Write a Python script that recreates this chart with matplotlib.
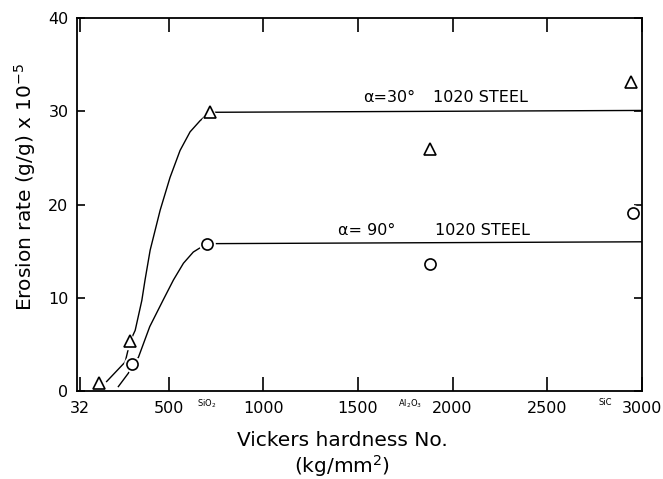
import matplotlib
matplotlib.use("Agg")
import matplotlib.pyplot as plt
import matplotlib.transforms as mtransforms

# === DATA ===
# measured points, 30 deg impact (triangles)
tri_x = [133, 296, 716, 1879, 2945]
tri_y = [0.8, 5.3, 29.9, 26.0, 33.1]
# measured points, 90 deg impact (circles)
circ_x = [305, 701, 1879, 2951]
circ_y = [2.86, 15.8, 13.6, 19.1]

# hand-drawn fit curves
fit30_x = [172, 270, 296, 323, 358, 375, 402, 455, 507, 560, 613, 666, 716, 3000]
fit30_y = [1.0, 3.1, 5.3, 6.5, 9.7, 11.9, 15.1, 19.4, 22.9, 25.8, 27.8, 29.0, 29.9, 30.1]
fit90_x = [234, 287, 305, 340, 400, 472, 525, 578, 630, 701, 3000]
fit90_y = [0.46, 1.9, 2.86, 3.6, 6.9, 9.8, 11.9, 13.7, 14.9, 15.8, 16.0]

xticks = [32, 500, 1000, 1500, 2000, 2500, 3000]
yticks = [0, 10, 20, 30, 40]

materials = ["SiO$_2$", "Al$_2$O$_3$", "SiC"]
material_x = [701, 1774, 2808]

plt.rcParams["font.family"] = ["DejaVu Sans"]

# === PLOT ===
fig = plt.figure(figsize=(6.63, 4.79), dpi=100)
ax = fig.add_axes([0.116, 0.184, 0.852, 0.778])

ax.plot(fit30_x, fit30_y, color="black", lw=1.0)
ax.plot(fit90_x, fit90_y, color="black", lw=1.0)

# white halo so the line stops short of each symbol
ax.plot(tri_x, tri_y, ls="none", marker="^", ms=12, mfc="white", mec="white")
ax.plot(circ_x, circ_y, ls="none", marker="o", ms=11, mfc="white", mec="white")
ax.plot(tri_x, tri_y, ls="none", marker="^", ms=8, mfc="white", mec="black", mew=1.2)
ax.plot(circ_x, circ_y, ls="none", marker="o", ms=8, mfc="white", mec="black", mew=1.2)

ax.set_xlim(15, 3000)
ax.set_ylim(0, 40)
ax.set_xticks(xticks)
ax.set_yticks(yticks)
ax.tick_params(axis="x", direction="in", top=True, length=10, width=1.2,
               labelsize=11.5, pad=7)
ax.tick_params(axis="y", direction="in", right=True, length=6, width=1.2,
               labelsize=11.5, pad=6)
for s in ax.spines.values():
    s.set_linewidth(1.3)

# material names above the hardness numbers
trans = mtransforms.blended_transform_factory(ax.transData, ax.transAxes)
for name, mx in zip(materials, material_x):
    ax.text(mx, -0.018, name, transform=trans, fontsize=6, ha="center", va="top")

# curve labels
ax.text(1529, 31.5, "α=30°", fontsize=11.5, va="center")
ax.text(1895, 31.5, "1020 STEEL", fontsize=11.5, va="center")
ax.text(1394, 17.2, "α= 90°", fontsize=11.5, va="center")
ax.text(1908, 17.2, "1020 STEEL", fontsize=11.5, va="center")

# axis titles
fig.text(342 / 663, 1 - 440 / 479, "Vickers hardness No.", fontsize=14.5,
         ha="center", va="center")
fig.text(342 / 663, 1 - 466 / 479, "(kg/mm$^2$)", fontsize=14.5,
         ha="center", va="center")
fig.text(25 / 663, 1 - 187 / 479, "Erosion rate (g/g) x 10$^{-5}$",
         fontsize=14.5, rotation=90, ha="center", va="center")

fig.savefig("out.png", dpi=100)
